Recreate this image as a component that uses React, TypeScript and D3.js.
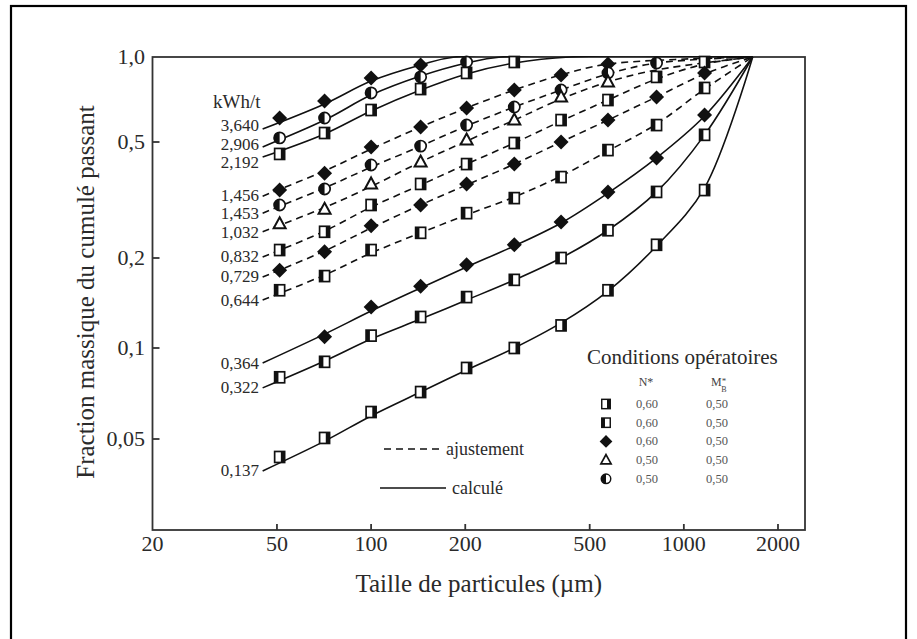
import React from "react";
import * as d3 from "d3";

const W = 917;
const H = 639;

// Sieve classes (µm) at which the size distributions were measured
const sizes = [51, 71, 100, 144, 202, 287, 405, 572, 818, 1165];

// Cumulative passing fraction measured per specific energy (kWh/t)
const e3640 = [0.608, 0.699, 0.843, 0.937];
const e2906 = [0.517, 0.608, 0.746, 0.85, 0.96];
const e2192 = [0.455, 0.538, 0.649, 0.77, 0.878, 0.96];
const e1456 = [0.342, 0.391, 0.481, 0.565, 0.66, 0.764, 0.864, 0.944];
const e1453 = [0.304, 0.345, 0.417, 0.484, 0.574, 0.665, 0.764, 0.878, 0.952];
const e1032 = [0.262, 0.294, 0.359, 0.427, 0.508, 0.598, 0.722, 0.816];
const e0832 = [0.213, 0.246, 0.304, 0.359, 0.42, 0.496, 0.598, 0.704, 0.85, 0.96];
const e0729 = [0.182, 0.21, 0.258, 0.304, 0.359, 0.42, 0.5, 0.598, 0.722, 0.878];
const e0644 = [0.156, 0.174, 0.213, 0.244, 0.285, 0.321, 0.379, 0.469, 0.574, 0.777];
const e0364 = [null, 0.109, 0.137, 0.161, 0.19, 0.222, 0.266, 0.337, 0.441, 0.623];
const e0322 = [0.08, 0.09, 0.11, 0.127, 0.148, 0.169, 0.2, 0.249, 0.337, 0.53];
const e0137 = [0.0436, 0.0504, 0.0614, 0.0715, 0.0859, 0.1, 0.119, 0.156, 0.222, 0.342];

// Fitted / calculated curves, sampled at fitSizes; every curve closes at F = 1 at topSize
const fitSizes = [45, 71, 100, 144, 202, 287, 405, 572, 818, 1165];
const topSize = 1660;
const f3640 = [0.556, 0.682, 0.822, 0.937];
const f2906 = [0.481, 0.598, 0.733, 0.856, 0.952];
const f2192 = [0.444, 0.534, 0.644, 0.764, 0.871, 0.952];
const f1456 = [0.326, 0.398, 0.473, 0.565, 0.66, 0.764, 0.864, 0.944];
const f1453 = [0.285, 0.348, 0.41, 0.484, 0.57, 0.665, 0.764, 0.871, 0.952];
const f1032 = [0.246, 0.298, 0.352, 0.427, 0.504, 0.598, 0.71, 0.816, 0.9];
const f0832 = [0.2016, 0.2474, 0.299, 0.356, 0.42, 0.496, 0.593, 0.704, 0.836, 0.944];
const f0729 = [0.1728, 0.2114, 0.2535, 0.304, 0.356, 0.42, 0.5, 0.598, 0.722, 0.871];
const f0644 = [0.1447, 0.1754, 0.208, 0.244, 0.281, 0.324, 0.382, 0.466, 0.579, 0.77];
const f0364 = [0.0892, 0.1113, 0.1329, 0.1587, 0.1866, 0.22, 0.2637, 0.334, 0.441, 0.618];
const f0322 = [0.0738, 0.0906, 0.1072, 0.125, 0.1447, 0.1688, 0.2, 0.249, 0.337, 0.53];
const f0137 = [0.0392, 0.0492, 0.0596, 0.0715, 0.0846, 0.1, 0.1213, 0.155, 0.22, 0.348];
// Sizes where the three finest products reach F = 1
const reachSizes = [185, 260, 430];

const energyLabels = ["3,640", "2,906", "2,192", "1,456", "1,453", "1,032", "0,832", "0,729", "0,644", "0,364", "0,322", "0,137"];
const markerKinds = ["diamond", "circle", "squareR", "diamond", "circle", "triangle", "squareR", "diamond", "squareL", "diamond", "squareL", "squareR"];
const dashedFlags = [false, false, false, true, true, true, true, true, true, false, false, false];
const seriesValues = [e3640, e2906, e2192, e1456, e1453, e1032, e0832, e0729, e0644, e0364, e0322, e0137];
const fitValues = [f3640, f2906, f2192, f1456, f1453, f1032, f0832, f0729, f0644, f0364, f0322, f0137];

const xTicks = [20, 50, 100, 200, 500, 1000, 2000];
const xTickLabels = ["20", "50", "100", "200", "500", "1000", "2000"];
const yTicks = [1, 0.5, 0.2, 0.1, 0.05];
const yTickLabels = ["1,0", "0,5", "0,2", "0,1", "0,05"];

const legendKinds = ["squareR", "squareL", "diamond", "triangle", "circle"];
const legendN = ["0,60", "0,60", "0,60", "0,50", "0,50"];
const legendM = ["0,50", "0,50", "0,50", "0,50", "0,50"];

const FONT = "'Liberation Serif', 'Times New Roman', serif";
const INK = "#111";
const TXT = "#2a2a2a";

const plot = { left: 152.5, right: 805, top: 57, bottom: 530 };

const x = d3.scaleLog().domain([20, 2440]).range([plot.left, plot.right]);
const y = d3
  .scaleLog()
  .domain([1, 0.5, 0.2, 0.1, 0.05, 0.025])
  .range([plot.top, 142, 258, 348, 439, plot.bottom]);

function Marker({ kind, cx, cy, k = 1 }: { kind: string; cx: number; cy: number; k?: number }) {
  const t = `translate(${cx},${cy}) scale(${k})`;
  if (kind === "diamond") {
    return <path transform={t} d="M0,-7.5L7.5,0L0,7.5L-7.5,0Z" fill={INK} />;
  }
  if (kind === "circle") {
    return (
      <g transform={t}>
        <circle r={5.6} fill="#fff" stroke={INK} strokeWidth={1.7} />
        <path d="M0,-5.6A5.6,5.6 0 0 0 0,5.6Z" fill={INK} />
      </g>
    );
  }
  if (kind === "triangle") {
    return <path transform={t} d="M0,-6.5L6,4.5L-6,4.5Z" fill="#fff" stroke={INK} strokeWidth={2} strokeLinejoin="miter" />;
  }
  const right = kind === "squareR";
  return (
    <g transform={t}>
      <rect x={-5} y={-5.5} width={10} height={11} fill="#fff" stroke={INK} strokeWidth={1.7} />
      <rect x={right ? 1.2 : -5} y={-5.5} width={3.8} height={11} fill={INK} />
    </g>
  );
}

export default function App() {
  const series = seriesValues.map((vals, i) => {
    const pts: [number, number][] = fitValues[i].map((v, j) => [fitSizes[j], v] as [number, number]);
    if (i < reachSizes.length) pts.push([reachSizes[i], 1]);
    pts.push([topSize, 1]);
    return {
      label: energyLabels[i],
      kind: markerKinds[i],
      dashed: dashedFlags[i],
      vals,
      pts,
    };
  });

  const line = d3
    .line<[number, number]>()
    .x((d) => x(d[0]))
    .y((d) => y(d[1]))
    .curve(d3.curveCatmullRom.alpha(0.5));

  // Energy labels sit at the start of each curve, spread apart when too close
  const minGap = 18.5;
  const labelPos = series.map((s) => y(s.pts[0][1]));
  for (let it = 0; it < 60; it++) {
    for (let i = 1; i < labelPos.length; i++) {
      const d = labelPos[i] - labelPos[i - 1];
      if (d < minGap) {
        const push = (minGap - d) / 2;
        labelPos[i - 1] -= push;
        labelPos[i] += push;
      }
    }
  }

  return (
    <svg
      width={W}
      height={H}
      style={{ position: "absolute", left: 0, top: 0, background: "#fff" }}
      fontFamily={FONT}
    >
      <defs>
        <clipPath id="plotClip">
          <rect x={plot.left} y={plot.top - 1} width={plot.right - plot.left} height={plot.bottom - plot.top + 1} />
        </clipPath>
      </defs>

      <rect x={11} y={6} width={895} height={700} fill="none" stroke="#000" strokeWidth={2.2} />

      {/* plot frame */}
      <rect
        x={plot.left}
        y={plot.top}
        width={plot.right - plot.left}
        height={plot.bottom - plot.top}
        fill="none"
        stroke="#333"
        strokeWidth={1.8}
      />

      {/* x ticks */}
      {xTicks.map((v, i) => (
        <g key={"xt" + i}>
          {i > 0 && (
            <line x1={x(v)} x2={x(v)} y1={plot.bottom} y2={plot.bottom - 6} stroke="#333" strokeWidth={1.8} />
          )}
          <text x={x(v)} y={551} textAnchor="middle" fontSize={22} fill={TXT}>
            {xTickLabels[i]}
          </text>
        </g>
      ))}

      {/* y ticks */}
      {yTicks.map((v, i) => (
        <g key={"yt" + i}>
          {i > 0 && (
            <line x1={plot.left} x2={plot.left + 7} y1={y(v)} y2={y(v)} stroke="#333" strokeWidth={1.8} />
          )}
          <text x={145} y={y(v) + 7} textAnchor="end" fontSize={22} fill={TXT}>
            {yTickLabels[i]}
          </text>
        </g>
      ))}

      <text x={(plot.left + plot.right) / 2} y={592} textAnchor="middle" fontSize={25} fill={TXT}>
        Taille de particules (µm)
      </text>
      <text transform={`translate(94,292) rotate(-90)`} textAnchor="middle" fontSize={25} fill={TXT}>
        Fraction massique du cumulé passant
      </text>

      {/* fitted and calculated curves */}
      <g clipPath="url(#plotClip)">
        {series.map((s, i) => (
          <path
            key={"c" + i}
            d={line(s.pts) || ""}
            fill="none"
            stroke={INK}
            strokeWidth={1.6}
            strokeDasharray={s.dashed ? "7,5" : undefined}
          />
        ))}
      </g>

      {/* measured points */}
      {series.map((s, i) => (
        <g key={"m" + i}>
          {s.vals.map((v, j) =>
            v == null ? null : <Marker key={j} kind={s.kind} cx={x(sizes[j])} cy={y(v)} />
          )}
        </g>
      ))}

      {/* energy labels */}
      <text x={213} y={108} fontSize={19} fill={TXT}>
        kWh/t
      </text>
      {series.map((s, i) => (
        <text key={"l" + i} x={259} y={labelPos[i] + 5.5} textAnchor="end" fontSize={17} fill={TXT}>
          {s.label}
        </text>
      ))}

      {/* line style legend */}
      <line x1={384} x2={442} y1={449} y2={449} stroke={INK} strokeWidth={1.6} strokeDasharray="7,5" />
      <text x={446} y={455} fontSize={18} fill={TXT}>
        ajustement
      </text>
      <line x1={380} x2={446} y1={488} y2={488} stroke={INK} strokeWidth={1.6} />
      <text x={452} y={494} fontSize={18} fill={TXT}>
        calculé
      </text>

      {/* operating conditions legend */}
      <text x={587} y={364} fontSize={21} fill={TXT}>
        Conditions opératoires
      </text>
      <text x={646} y={386} textAnchor="middle" fontSize={12} fill="#444">
        N*
      </text>
      <text x={711} y={386} fontSize={12} fill="#444">
        M
        <tspan fontSize={9} dy={-2}>
          *
        </tspan>
        <tspan fontSize={8} dx={-5} dy={8}>
          B
        </tspan>
      </text>
      {legendKinds.map((k, i) => {
        const ry = 404 + i * 18.7;
        return (
          <g key={"lg" + i}>
            <Marker kind={k} cx={606} cy={ry} k={0.85} />
            <text x={647} y={ry + 4} textAnchor="middle" fontSize={12.5} fill="#555">
              {legendN[i]}
            </text>
            <text x={717} y={ry + 4} textAnchor="middle" fontSize={12.5} fill="#555">
              {legendM[i]}
            </text>
          </g>
        );
      })}
    </svg>
  );
}
